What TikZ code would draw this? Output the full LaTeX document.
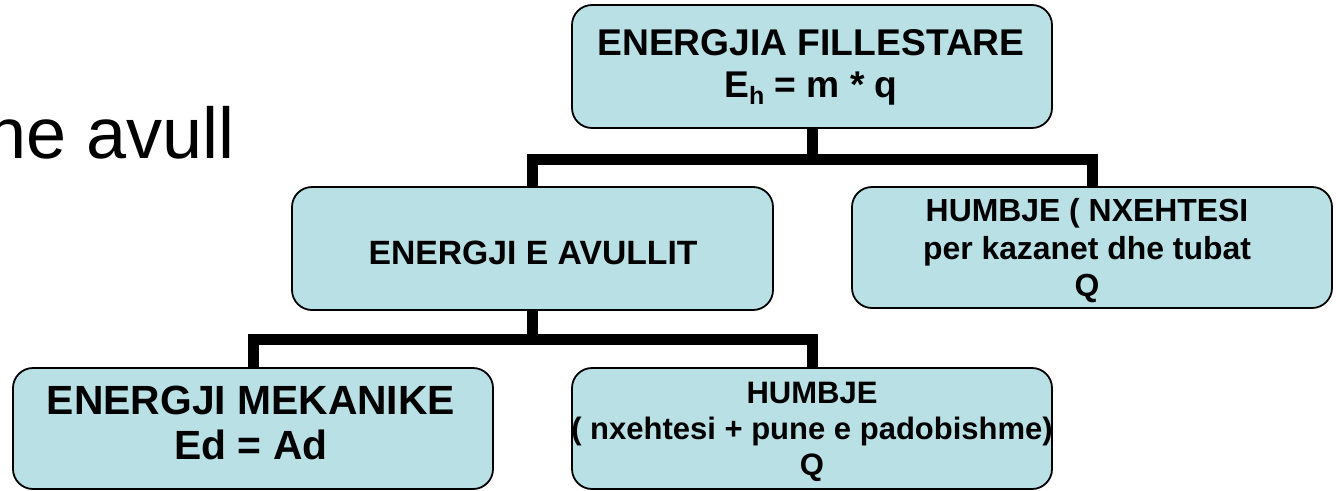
\documentclass[tikz,border=0pt]{standalone}
\usepackage{fontspec}
\setmainfont{Liberation Sans}
\definecolor{boxfill}{RGB}{185,224,228}
\begin{document}
\begin{tikzpicture}[x=1pt,y=-1pt,
  box/.style={draw=black, line width=1.8pt, fill=boxfill, rounded corners=20pt,
    inner sep=0pt},
  lbl/.style={inner sep=0pt, align=center},
  conn/.style={line width=11pt, black, line join=miter}]
\useasboundingbox (0,0) rectangle (1336,490);
\node[anchor=base east, inner sep=0pt, font=\fontsize{72}{72}\selectfont] (title) at (235,158) {ne avull};
% boxes
\node[box, minimum width=480pt, minimum height=123pt] (top) at (812,66.5) {};
\node[box, minimum width=481pt, minimum height=123pt] (mid) at (532.5,248.5) {};
\node[box, minimum width=480pt, minimum height=121pt] (right) at (1092,247.5) {};
\node[box, minimum width=480pt, minimum height=121pt] (bl) at (253,428.5) {};
\node[box, minimum width=480pt, minimum height=121pt] (br) at (812,428.5) {};
% texts
\node[lbl, font=\bfseries\fontsize{37.2}{42}\selectfont] (topt) at (811,67.5)
  {ENERGJIA FILLESTARE\\
   E\raisebox{-7pt}{\fontsize{25}{25}\selectfont h} = m * q};
\node[lbl, font=\bfseries\fontsize{33.7}{40}\selectfont] (midt) at (533,252.5)
  {ENERGJI E AVULLIT};
\node[lbl, font=\bfseries\fontsize{31.9}{37.5}\selectfont] (rightt) at (1087,251)
  {HUMBJE ( NXEHTESI\\ per kazanet dhe tubat\\ Q};
\node[lbl, font=\bfseries\fontsize{40.8}{45}\selectfont] (blt) at (251,423)
  {ENERGJI MEKANIKE\\ Ed = Ad};
\node[lbl, font=\bfseries\fontsize{31}{36}\selectfont] (brt) at (812,432)
  {HUMBJE\\ ( nxehtesi + pune e padobishme)\\ Q};
% connectors
\coordinate (j1) at (812,159);
\coordinate (j2) at (532.5,339);
\draw[conn] (top.south) -- (j1);
\draw[conn] (mid.north) |- (j1);
\draw[conn] (right.north) |- (j1);
\draw[conn] (mid.south) -- (j2);
\draw[conn] (bl.north) |- (j2);
\draw[conn] (br.north) |- (j2);
\end{tikzpicture}
\end{document}
